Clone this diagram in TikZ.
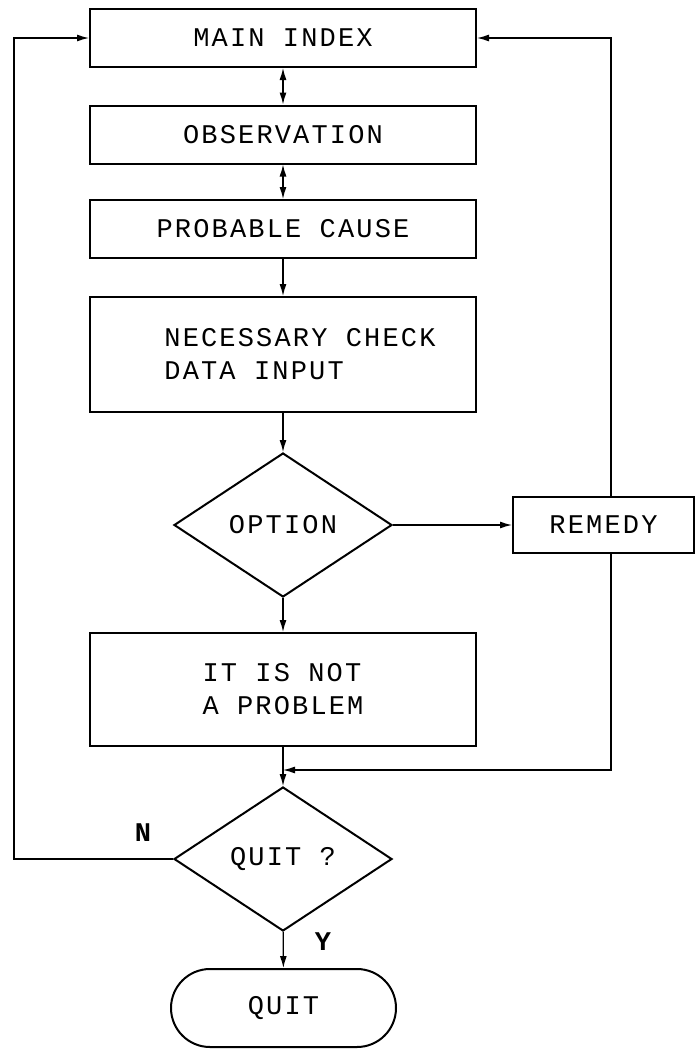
\documentclass[tikz,border=0pt]{standalone}
\usepackage{fontspec}
\newfontfamily\plotfont[LetterSpace=8]{Liberation Mono}
\usetikzlibrary{shapes.geometric,arrows.meta}
\tikzset{
  box/.style={draw,line width=2pt,minimum width=386pt,minimum height=58pt,inner sep=0pt},
  decide/.style={draw,diamond,aspect=1.51,line width=2pt,minimum width=218pt,
    minimum height=144pt,inner sep=0pt},
  link/.style={line width=1.3pt},
  go/.style={link,-{Latex[length=12pt,width=7pt]}},
  twoway/.style={link,{Latex[length=12pt,width=7pt]}-{Latex[length=12pt,width=7pt]}},
}
\begin{document}
\begin{tikzpicture}[x=1pt,y=-1pt,font=\plotfont\fontsize{27}{33}\selectfont]
  \useasboundingbox (0,0) rectangle (696,1050);
  \node[box] (main) at (283,38) {MAIN INDEX};
  \node[box] (obs) at (283,134.5) {OBSERVATION};
  \node[box] (cause) at (283,229) {PROBABLE CAUSE};
  \node[box,minimum height=115pt] (check) at (283,354.5) {};
  \node[align=left] (checktxt) at (300,354) {NECESSARY CHECK\\DATA INPUT};
  \node[decide] (option) at (283,525) {OPTION};
  \node[box,minimum width=181pt,minimum height=56pt] (remedy) at (603.5,525) {REMEDY};
  \node[box,minimum height=113pt,align=left] (notprob) at (283,689.5) {IT IS NOT\\A PROBLEM};
  \node[decide] (quitq) at (283,859) {QUIT ?};
  \node[draw,line width=2pt,rounded corners=39pt,minimum width=225pt,
    minimum height=78pt] (stop) at (283.5,1008) {QUIT};
  \node[font=\plotfont\bfseries\fontsize{27}{33}\selectfont] (nlabel) at (143,833) {N};
  \node[font=\plotfont\bfseries\fontsize{27}{33}\selectfont] (ylabel) at (323,942) {Y};
  \coordinate (leftrail) at (14,859);
  \coordinate (rightrail) at (611,38);
  \coordinate (join) at (283,770);
  % main column
  \draw[twoway] (main) -- (obs);
  \draw[twoway] (obs) -- (cause);
  \draw[go] (cause) -- (check);
  \draw[go] (check) -- (option);
  \draw[go] (option) -- (notprob);
  \draw[go] (option) -- (remedy);
  \draw[go] (notprob) -- (quitq);
  \draw[go] (quitq) -- (stop);
  % loops back
  \draw[go] (quitq.west) -- (leftrail) |- (main.west);
  \draw[go] (remedy.north -| rightrail) -- (rightrail) -- (main.east);
  \draw[go] (remedy.south -| rightrail) |- (join);
\end{tikzpicture}
\end{document}
